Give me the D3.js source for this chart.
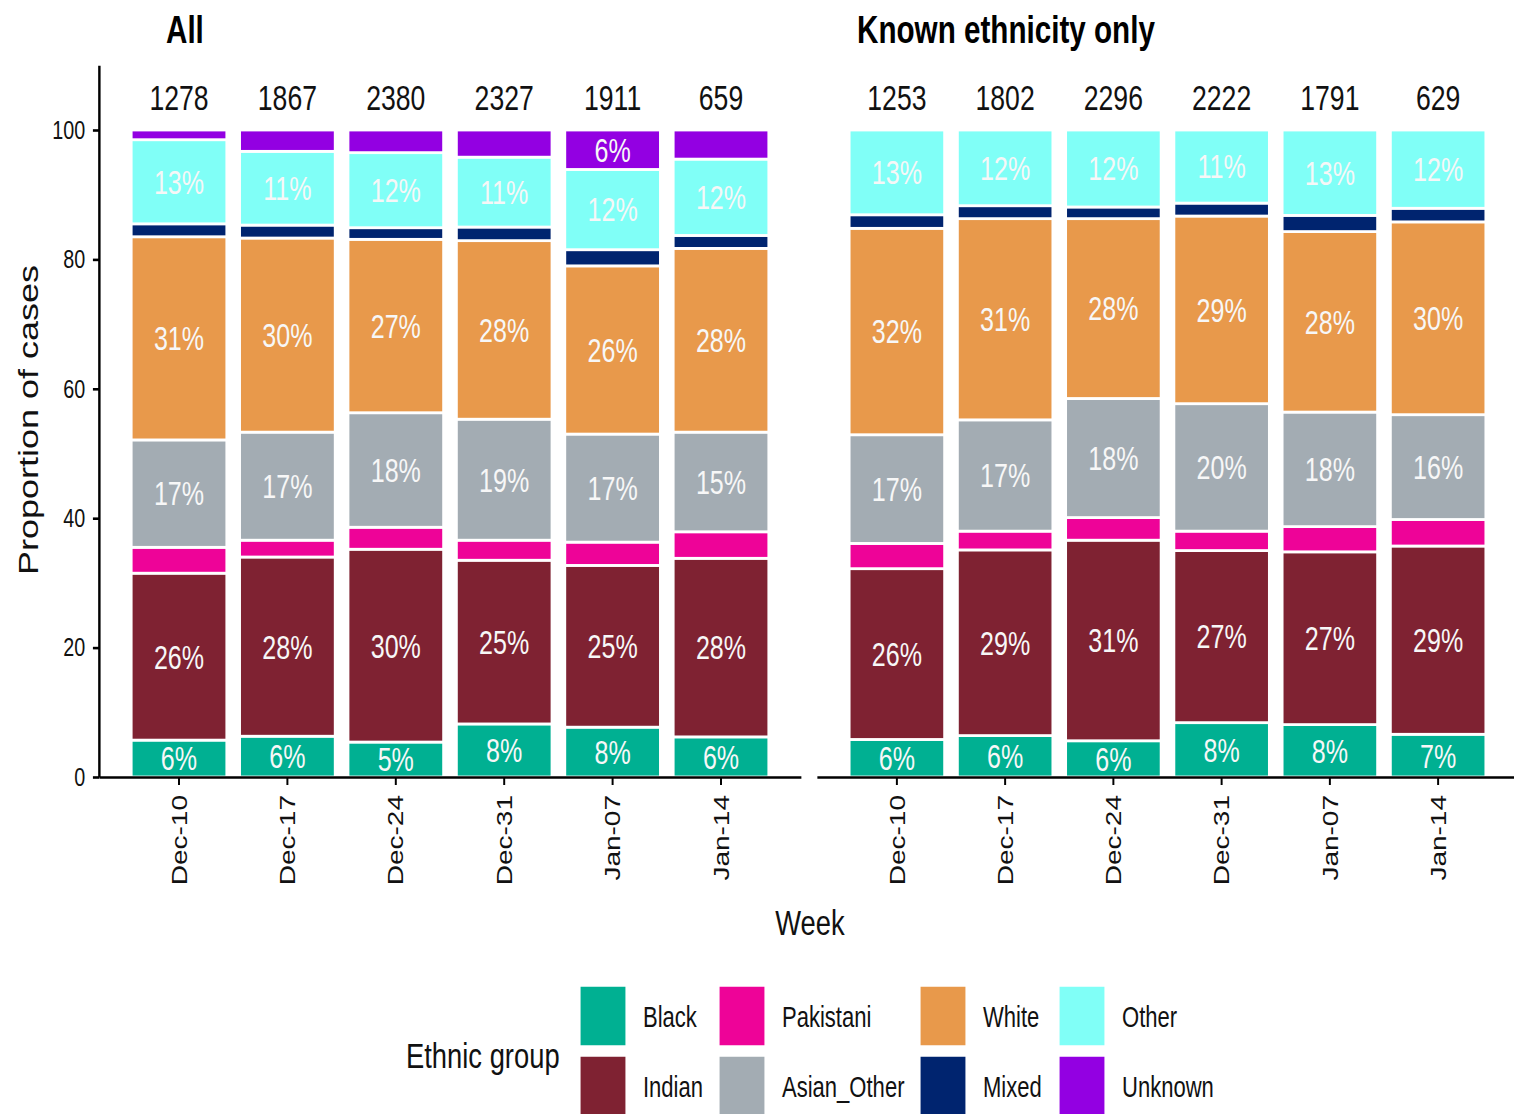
<!DOCTYPE html>
<html>
<head>
<meta charset="utf-8">
<script src="https://cdn.jsdelivr.net/npm/d3@7"></script>
<style>
  body { margin: 0; background: #fff; }
  text { font-family: "Liberation Sans", Arial, sans-serif; }
</style>
</head>
<body>
<script>
// weeks + ethnic groups (stack order bottom -> top)
var weeks = ["Dec-10", "Dec-17", "Dec-24", "Dec-31", "Jan-07", "Jan-14"];
var groups = ["Black", "Indian", "Pakistani", "Asian_Other", "White", "Mixed", "Other", "Unknown"];
var groupColours = ["#00b092", "#7f2232", "#ee0398", "#a3acb3", "#e8994b", "#00246f", "#80fff7", "#9300e2"];

// case counts shown above the bars
var countsAll = [1278, 1867, 2380, 2327, 1911, 659];
var countsKnown = [1253, 1802, 2296, 2222, 1791, 629];

// percentages, panel "All"
var allBlack = [5.7, 6.3, 5.4, 8.2, 7.7, 6.2];
var allIndian = [25.8, 27.7, 29.8, 25.3, 25.0, 27.6];
var allPakistani = [4.0, 2.6, 3.4, 3.1, 3.6, 4.1];
var allAsianOther = [16.6, 16.7, 17.7, 18.7, 16.7, 15.4];
var allWhite = [31.4, 30.0, 26.8, 27.6, 26.0, 28.4];
var allMixed = [2.0, 2.0, 1.8, 2.1, 2.5, 2.0];
var allOther = [13.0, 11.4, 11.6, 10.8, 12.4, 11.8];
var allUnknown = [1.5, 3.3, 3.5, 4.2, 6.1, 4.5];

// percentages, panel "Known ethnicity only"
var knownBlack = [5.8, 6.4, 5.6, 8.4, 8.1, 6.6];
var knownIndian = [26.4, 28.7, 31.0, 26.6, 26.7, 29.1];
var knownPakistani = [3.9, 2.9, 3.5, 3.0, 3.9, 4.1];
var knownAsianOther = [16.8, 17.2, 18.4, 19.7, 17.7, 16.2];
var knownWhite = [31.9, 31.1, 27.8, 29.0, 27.9, 29.8];
var knownMixed = [2.1, 2.0, 1.8, 2.0, 2.5, 2.1];
var knownOther = [13.1, 11.7, 11.9, 11.3, 13.2, 12.1];
var knownUnknown = [0, 0, 0, 0, 0, 0];

var yTicks = [0, 20, 40, 60, 80, 100];

var width = 1514, height = 1114;
// the original is squashed sideways, so draw everything in a wider frame and squeeze it
var SX = 0.76;
function px(v) { return v / SX; }

var colour = d3.scaleOrdinal().domain(groups).range(groupColours);

var svg = d3.select("body").append("svg")
    .attr("width", width)
    .attr("height", height);

svg.append("rect")
    .attr("width", "100%")
    .attr("height", "100%")
    .attr("fill", "#ffffff");

var g = svg.append("g").attr("transform", "scale(" + SX + ",1)");

var y = d3.scaleLinear().domain([0, 110]).range([777, 65.3]);

var panels = [
  { title: "All", counts: countsAll, x0: 99, x1: 801, titleX: 166, yAxis: true,
    series: [allBlack, allIndian, allPakistani, allAsianOther, allWhite, allMixed, allOther, allUnknown] },
  { title: "Known ethnicity only", counts: countsKnown, x0: 817, x1: 1518, titleX: 857, yAxis: false,
    series: [knownBlack, knownIndian, knownPakistani, knownAsianOther, knownWhite, knownMixed, knownOther, knownUnknown] }
];

panels.forEach(function(p) {
  var pg = g.append("g").attr("class", "panel");

  var x = d3.scaleBand().domain(weeks)
      .range([px(p.x0), px(p.x1)])
      .paddingInner(0.124)
      .paddingOuter(0.3);

  var rows = weeks.map(function(w, i) {
    var r = { week: w };
    groups.forEach(function(k, j) { r[k] = p.series[j][i]; });
    return r;
  });
  var stacked = d3.stack().keys(groups)(rows);

  var layer = pg.selectAll("g.layer")
      .data(stacked)
      .enter().append("g")
      .attr("class", "layer")
      .attr("fill", function(d) { return colour(d.key); });

  layer.selectAll("rect")
      .data(function(d) { return d.filter(function(s) { return s[1] - s[0] > 0; }); })
      .enter().append("rect")
      .attr("x", function(d) { return x(d.data.week); })
      .attr("y", function(d) { return y(d[1]); })
      .attr("width", x.bandwidth())
      .attr("height", function(d) { return y(d[0]) - y(d[1]); })
      .attr("stroke", "#ffffff")
      .attr("stroke-width", 2.8);

  // % labels for the bigger pieces only
  layer.selectAll("text")
      .data(function(d) { return d.filter(function(s) { return s[1] - s[0] >= 5; }); })
      .enter().append("text")
      .attr("x", function(d) { return x(d.data.week) + x.bandwidth() / 2; })
      .attr("y", function(d) { return y((d[0] + d[1]) / 2); })
      .attr("dy", "0.36em")
      .attr("text-anchor", "middle")
      .attr("font-size", 33)
      .attr("fill", "#f7f7f7")
      .text(function(d) { return Math.round(d[1] - d[0]) + "%"; });

  // counts on top
  pg.selectAll("text.count")
      .data(p.counts)
      .enter().append("text")
      .attr("class", "count")
      .attr("x", function(d, i) { return x(weeks[i]) + x.bandwidth() / 2; })
      .attr("y", y(105))
      .attr("dy", "0.36em")
      .attr("text-anchor", "middle")
      .attr("font-size", 35)
      .attr("fill", "#111")
      .text(function(d) { return d; });

  pg.append("text")
      .attr("x", px(p.titleX))
      .attr("y", 43)
      .attr("font-size", 39)
      .attr("font-weight", "bold")
      .attr("fill", "#000")
      .text(p.title);

  var xAxis = pg.append("g")
      .attr("transform", "translate(0," + y(0) + ")")
      .call(d3.axisBottom(x).tickSize(8).tickSizeOuter(0));
  xAxis.select(".domain").attr("stroke", "#000").attr("stroke-width", 2.6);
  xAxis.selectAll(".tick line").attr("stroke", "#000").attr("stroke-width", 2.6);
  xAxis.selectAll(".tick text")
      .attr("transform", "rotate(-90)")
      .attr("x", -18)
      .attr("y", 0)
      .attr("dy", "0.36em")
      .attr("text-anchor", "end")
      .attr("font-size", 28)
      .attr("font-family", "Liberation Sans, Arial, sans-serif")
      .attr("fill", "#111");

  if (p.yAxis) {
    var yAxis = pg.append("g")
        .attr("transform", "translate(" + px(p.x0) + ",0)")
        .call(d3.axisLeft(y).tickValues(yTicks).tickSize(8).tickSizeOuter(0).tickPadding(10));
    yAxis.select(".domain").attr("stroke", "#000").attr("stroke-width", 3.2);
    yAxis.selectAll(".tick line").attr("stroke", "#000").attr("stroke-width", 2.6);
    yAxis.selectAll(".tick text")
        .attr("font-size", 26)
        .attr("font-family", "Liberation Sans, Arial, sans-serif")
        .attr("fill", "#111");
  }
});

// axis titles
g.append("text")
    .attr("transform", "translate(" + px(28) + ",420) rotate(-90)")
    .attr("dy", "0.36em")
    .attr("text-anchor", "middle")
    .attr("font-size", 36)
    .attr("fill", "#111")
    .text("Proportion of cases");

g.append("text")
    .attr("x", px(810))
    .attr("y", 935)
    .attr("text-anchor", "middle")
    .attr("font-size", 36)
    .attr("fill", "#111")
    .text("Week");

// legend, two rows, filled by column
var legend = g.append("g").attr("class", "legend");
legend.append("text")
    .attr("x", px(406))
    .attr("y", 1055)
    .attr("dy", "0.36em")
    .attr("font-size", 36)
    .attr("fill", "#111")
    .text("Ethnic group");

var colX = [580, 719, 920, 1059];
var rowY = [986, 1056];
var key = legend.selectAll("g.key")
    .data(groups)
    .enter().append("g")
    .attr("class", "key")
    .attr("transform", function(d, i) {
      return "translate(" + px(colX[Math.floor(i / 2)]) + "," + rowY[i % 2] + ")";
    });
key.append("rect")
    .attr("width", px(46))
    .attr("height", 60)
    .attr("fill", function(d) { return colour(d); })
    .attr("stroke", "#ffffff")
    .attr("stroke-width", 1.5);
key.append("text")
    .attr("x", px(63))
    .attr("y", 31)
    .attr("dy", "0.36em")
    .attr("font-size", 29)
    .attr("fill", "#111")
    .text(function(d) { return d; });
</script>
</body>
</html>
